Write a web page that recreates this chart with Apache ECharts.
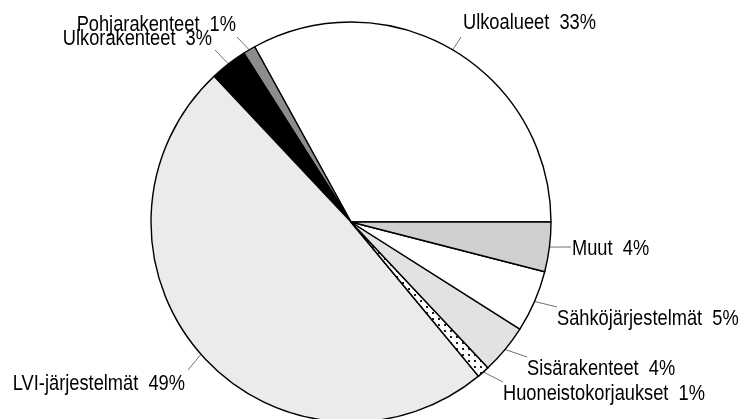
<!DOCTYPE html>
<html>
<head>
<meta charset="utf-8">
<script src="https://cdn.jsdelivr.net/npm/echarts@6/dist/echarts.min.js"></script>
<style>
  html, body { margin: 0; padding: 0; background: #fff; }
  #chart { width: 739px; height: 419px; }
</style>
</head>
<body>
<div id="chart"></div>
<script>
// Cost breakdown by work category, counter-clockwise from 3 o'clock
const categories = [
  'Ulkoalueet',
  'Pohjarakenteet',
  'Ulkorakenteet',
  'LVI-järjestelmät',
  'Huoneistokorjaukset',
  'Sisärakenteet',
  'Sähköjärjestelmät',
  'Muut'
];
const shares = [33, 1, 3, 49, 1, 4, 5, 4];

// Slice fills (greyscale print style)
const fills = ['#ffffff', '#8c8c8c', '#000000', '#ebebeb', '#ffffff', '#e2e2e2', '#ffffff', '#d0d0d0'];

// Label placement: [lineEndX, lineEndY, textX, textMidY, align]
const labelSpots = [
  [461, 37, 463, 22.5, 'left'],
  [237, 37, 236, 25, 'right'],
  [215, 50, 212, 38.5, 'right'],
  [188, 370, 185, 384, 'right'],
  [503, 382, 503, 394, 'left'],
  [527, 357, 527, 369, 'left'],
  [557, 307, 557, 319, 'left'],
  [571, 247, 572, 249, 'left']
];

// Horizontal squeeze that gives the labels a narrow grotesque look
const LABEL_SQUEEZE = 0.83;

const chart = echarts.init(document.getElementById('chart'), null, { renderer: 'canvas' });

const data = categories.map((name, i) => {
  const item = {
    name: name,
    value: shares[i],
    itemStyle: { color: fills[i] }
  };
  if (name === 'Huoneistokorjaukset') {
    item.itemStyle.decal = {
      symbol: 'rect',
      symbolSize: 1,
      color: '#222',
      backgroundColor: '#ffffff',
      dashArrayX: [1.4, 3.6],
      dashArrayY: [1.4, 3.6],
      rotation: 0
    };
  }
  return item;
});

chart.setOption({
  animation: false,
  backgroundColor: '#ffffff',
  series: [{
    type: 'pie',
    center: [351, 222],
    radius: 200,
    startAngle: 0,
    clockwise: false,
    avoidLabelOverlap: false,
    data: data,
    itemStyle: {
      borderColor: '#000000',
      borderWidth: 1.4
    },
    emphasis: { disabled: true },
    label: {
      show: true,
      position: 'outside',
      formatter: '{b}  {c}%',
      fontFamily: '"Liberation Sans", Arial, sans-serif',
      fontSize: 22,
      color: '#000000',
      overflow: 'none'
    },
    labelLine: {
      show: true,
      length: 10,
      length2: 10,
      lineStyle: { color: '#707070', width: 1 }
    },
    labelLayout: function (params) {
      const s = labelSpots[params.dataIndex];
      const p0 = params.labelLinePoints ? params.labelLinePoints[0] : [s[0], s[1]];
      return {
        x: s[2],
        y: s[3],
        align: s[4],
        verticalAlign: 'middle',
        labelLinePoints: [p0, [s[0], s[1]], [s[0], s[1]]]
      };
    }
  }]
});

// Narrow the label glyphs around their anchor point
const pieData = chart.getModel().getSeriesByIndex(0).getData();
pieData.each(function (idx) {
  const sector = pieData.getItemGraphicEl(idx);
  const text = sector && sector.getTextContent();
  if (text) {
    text.setStyle({ width: null, overflow: 'none' });
    text.scaleX = LABEL_SQUEEZE;
    text.originX = 0;
    text.originY = 0;
    text.markRedraw();
  }
});
chart.getZr().refreshImmediately();
</script>
</body>
</html>
